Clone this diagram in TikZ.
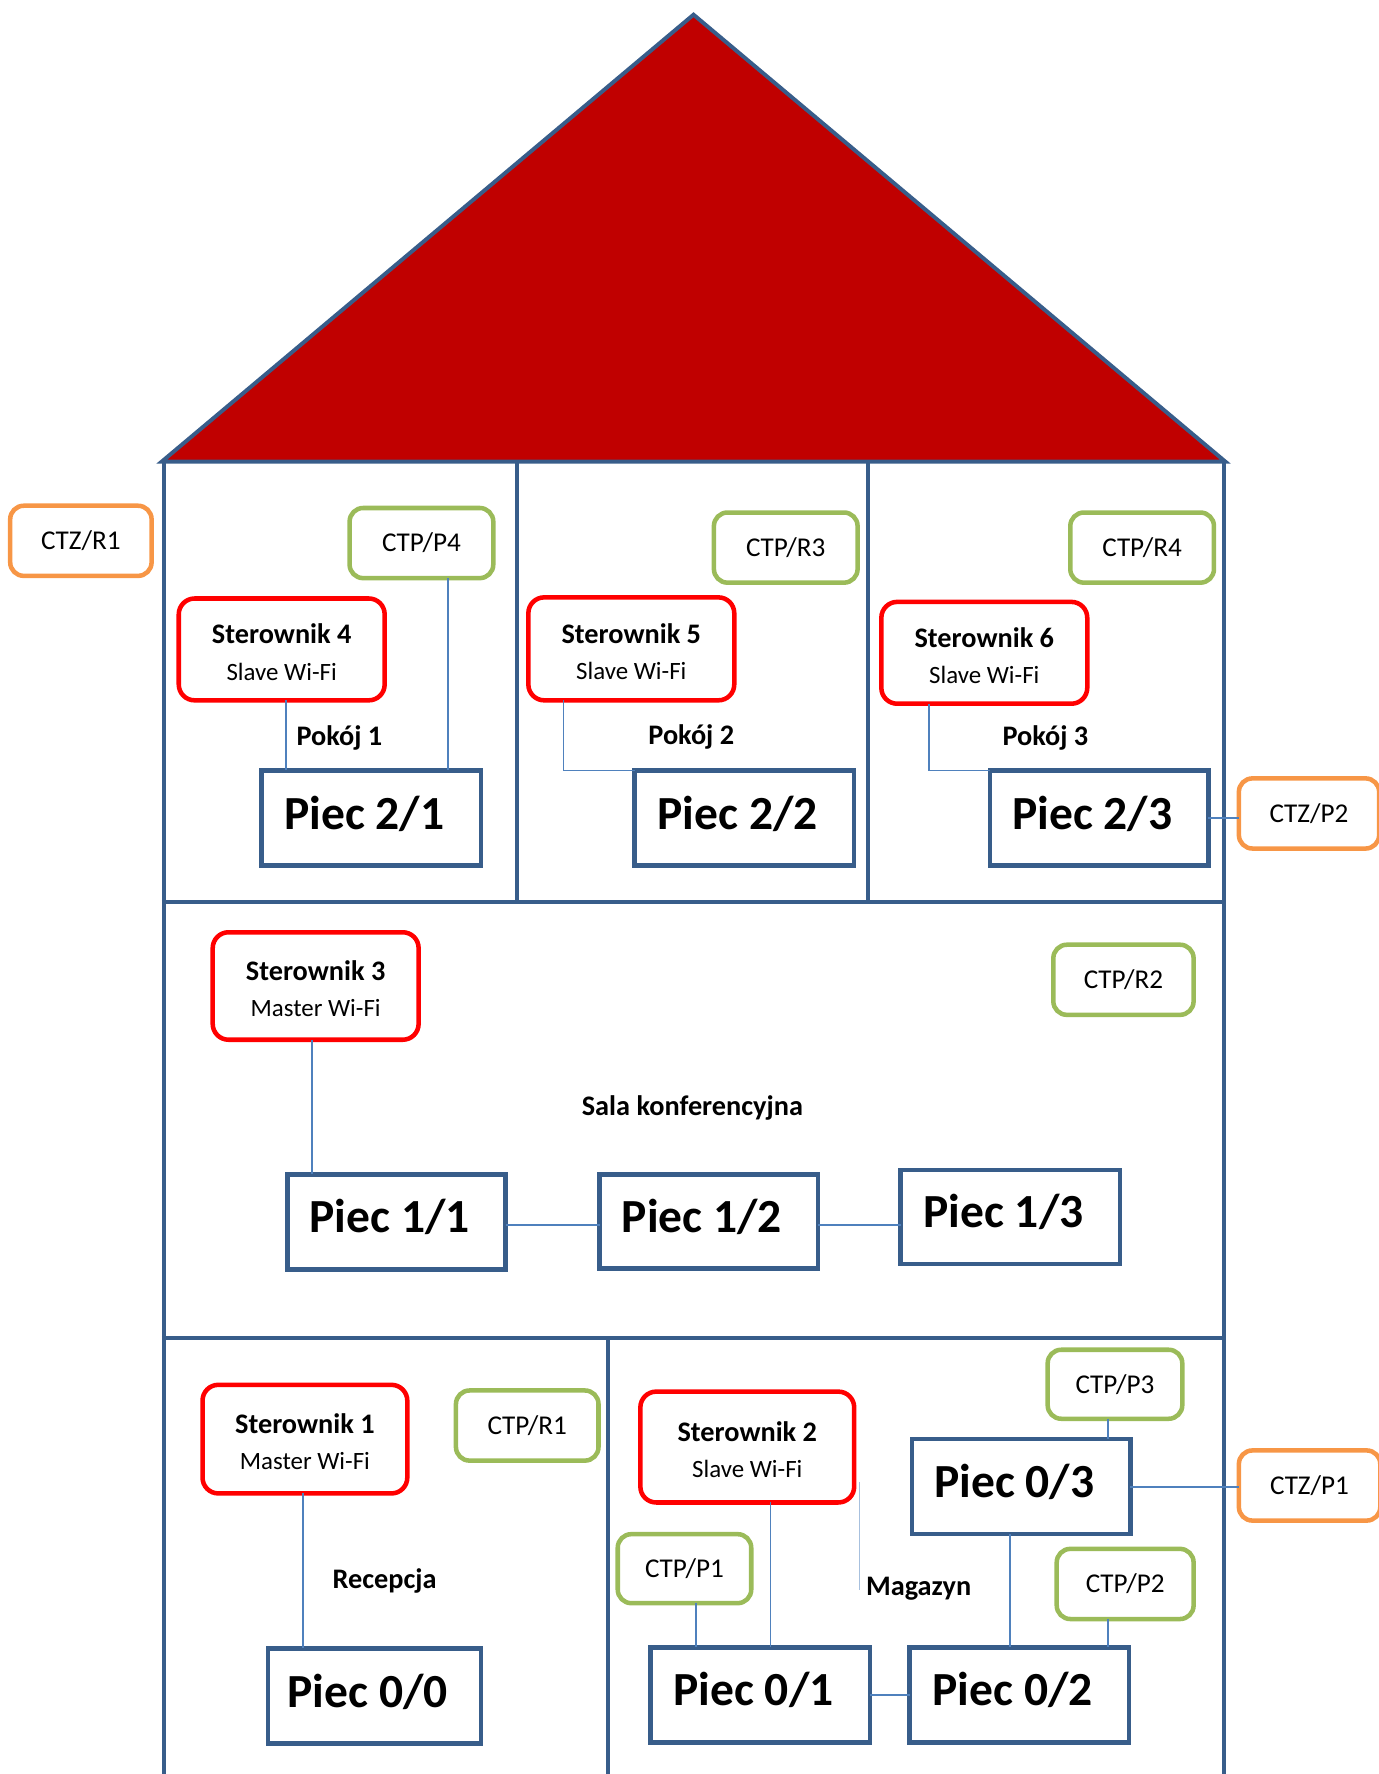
\documentclass[tikz,border=0pt]{standalone}
\usepackage{fontspec}
\setmainfont{Carlito}
\definecolor{wall}{RGB}{56,93,138}
\definecolor{roofred}{RGB}{192,0,0}
\definecolor{sterred}{RGB}{255,0,0}
\definecolor{ctpgreen}{RGB}{155,187,89}
\definecolor{ctzorange}{RGB}{247,150,70}
\definecolor{conn}{RGB}{79,129,189}
\tikzset{
  wallline/.style={draw=wall, line width=3.5pt},
  piec/.style={draw=wall, line width=4pt, inner sep=0pt, outer sep=0pt, align=center,
    font=\fontsize{42}{48}\selectfont\bfseries},
  ster/.style={draw=sterred, line width=4pt, rounded corners=14pt, inner sep=0pt, outer sep=0pt,
    align=center, font=\fontsize{22}{33}\selectfont},
  ctp/.style={draw=ctpgreen, line width=4pt, rounded corners=12pt, inner sep=0pt, outer sep=0pt,
    align=center, font=\fontsize{24}{28}\selectfont},
  ctz/.style={draw=ctzorange, line width=4pt, rounded corners=12pt, inner sep=0pt, outer sep=0pt,
    align=center, font=\fontsize{24}{28}\selectfont},
  room/.style={font=\fontsize{25}{30}\selectfont\bfseries, inner sep=0pt},
  link/.style={draw=conn, line width=1.6pt},
}
\newcommand{\stertext}[2]{\raisebox{-3pt}[\height][\depth]{\fontsize{25}{33}\selectfont\bfseries #1}\\\raisebox{-2pt}[\height][\depth]{#2}}
\newcommand{\pieclabel}[1]{\raisebox{4pt}[\height][\depth]{#1}\hspace{12pt}}
\begin{document}
\begin{tikzpicture}[x=1pt,y=-1pt]
\useasboundingbox (0,0) rectangle (1218,1568);
% roof
\filldraw[fill=roofred, draw=wall, line width=3.5pt, line join=miter] (613,13) -- (1083,408) -- (143,408) -- cycle;
% walls
\draw[wallline] (145,408) -- (145,1580);
\draw[wallline] (1082,408) -- (1082,1580);
\draw[wallline] (143,797) -- (1084,797);
\draw[wallline] (143,1183) -- (1084,1183);
\draw[wallline] (457,408) -- (457,797);
\draw[wallline] (767,408) -- (767,797);
\draw[wallline] (537,1183) -- (537,1580);

% top floor
\node[ctz, minimum width=125pt, minimum height=62pt] (ctzr1) at (71.5,478) {CTZ/R1};
\node[ctp, minimum width=127pt, minimum height=62pt] (ctpp4) at (372.5,480) {CTP/P4};
\node[ster, minimum width=182pt, minimum height=90pt] (st4) at (249,574) {\stertext{Sterownik 4}{Slave Wi-Fi}};
\node[piec, minimum width=194pt, minimum height=84pt] (p21) at (328,723) {\pieclabel{Piec 2/1}};
\node[room] (pok1) at (300,652) {Pokój 1};

\node[ctp, minimum width=127pt, minimum height=62pt] (ctpr3) at (694.5,484) {CTP/R3};
\node[ster, minimum width=182pt, minimum height=91pt] (st5) at (558,573.5) {\stertext{Sterownik 5}{Slave Wi-Fi}};
\node[piec, minimum width=194pt, minimum height=84pt] (p22) at (658,723) {\pieclabel{Piec 2/2}};
\node[room] (pok2) at (611,651) {Pokój 2};

\node[ctp, minimum width=127pt, minimum height=62pt] (ctpr4) at (1009.5,484) {CTP/R4};
\node[ster, minimum width=182pt, minimum height=90pt] (st6) at (870,577) {\stertext{Sterownik 6}{Slave Wi-Fi}};
\node[piec, minimum width=193pt, minimum height=84pt] (p23) at (971.5,723) {\pieclabel{Piec 2/3}};
\node[room] (pok3) at (924,652) {Pokój 3};
\node[ctz, minimum width=124pt, minimum height=62pt] (ctzp2) at (1157,719) {CTZ/P2};

% middle floor
\node[ster, minimum width=182pt, minimum height=95pt] (st3) at (279,871.5) {\stertext{Sterownik 3}{Master Wi-Fi}};
\node[ctp, minimum width=124pt, minimum height=62pt] (ctpr2) at (993,866) {CTP/R2};
\node[room] (sala) at (612,979) {Sala konferencyjna};
\node[piec, minimum width=193pt, minimum height=84pt] (p11) at (350.5,1080) {\pieclabel{Piec 1/1}};
\node[piec, minimum width=193pt, minimum height=83pt] (p12) at (626.5,1079.5) {\pieclabel{Piec 1/2}};
\node[piec, minimum width=194pt, minimum height=83pt] (p13) at (893,1075.5) {\pieclabel{Piec 1/3}};

% bottom floor
\node[ster, minimum width=181pt, minimum height=96pt] (st1) at (269.5,1272) {\stertext{Sterownik 1}{Master Wi-Fi}};
\node[ctp, minimum width=126pt, minimum height=62pt] (ctpr1) at (466,1260) {CTP/R1};
\node[room] (recep) at (340,1397) {Recepcja};
\node[piec, minimum width=188pt, minimum height=84pt] (p00) at (331,1499) {\pieclabel{Piec 0/0}};

\node[ster, minimum width=189pt, minimum height=98pt] (st2) at (660.5,1279) {\stertext{Sterownik 2}{Slave Wi-Fi}};
\node[ctp, minimum width=118pt, minimum height=61pt] (ctpp1) at (605,1386.5) {CTP/P1};
\node[room] (mag) at (812,1404) {Magazyn};
\node[piec, minimum width=194pt, minimum height=84pt] (p01) at (672,1498) {\pieclabel{Piec 0/1}};
\node[piec, minimum width=194pt, minimum height=84pt] (p02) at (901,1498) {\pieclabel{Piec 0/2}};
\node[piec, minimum width=193pt, minimum height=84pt] (p03) at (902.5,1314) {\pieclabel{Piec 0/3}};
\node[ctp, minimum width=119pt, minimum height=61pt] (ctpp3) at (985.5,1223.5) {CTP/P3};
\node[ctp, minimum width=121pt, minimum height=62pt] (ctpp2) at (994.5,1400) {CTP/P2};
\node[ctz, minimum width=125pt, minimum height=62pt] (ctzp1) at (1157.5,1313) {CTZ/P1};
\coordinate (fa) at (760,1310);
\coordinate (fb) at (760,1405);

% connectors
\draw[link] ([xshift=4pt]st4.south) -- ([xshift=4pt]st4.south |- p21.north);
\draw[link] ([xshift=23.5pt]ctpp4.south) -- ([xshift=23.5pt]ctpp4.south |- p21.north);
\draw[link] ([xshift=-60pt]st5.south) |- (p22.north west);
\draw[link] ([xshift=-49pt]st6.south) |- (p23.north west);
\draw[link] (p23.east) -- (p23.east -| ctzp2.west);
\draw[link] ([xshift=-3pt]st3.south) -- ([xshift=-3pt]st3.south |- p11.north);
\draw[link] ([yshift=-3pt]p11.east) -- ([yshift=-3pt]p11.east -| p12.west);
\draw[link] ([yshift=-3pt]p11.east -| p12.east) -- ([yshift=-3pt]p11.east -| p13.west);
\draw[link] ([xshift=-1.5pt]st1.south) -- ([xshift=-1.5pt]st1.south |- p00.north);
\draw[link] ([xshift=20.5pt]st2.south) -- ([xshift=20.5pt]st2.south |- p01.north);
\draw[link] ([xshift=10pt]ctpp1.south) -- ([xshift=10pt]ctpp1.south |- p01.north);
\draw[link] (p01.east) -- (p02.west);
\draw[link] ([xshift=-9.5pt]p03.south) -- ([xshift=-9.5pt]p03.south |- p02.north);
\draw[link] ([xshift=-6.5pt]ctpp3.south) -- ([xshift=-6.5pt]ctpp3.south |- p03.north);
\draw[link] ([xshift=-15.5pt]ctpp2.south) -- ([xshift=-15.5pt]ctpp2.south |- p02.north);
\draw[link] (p03.east) -- (p03.east -| ctzp1.west);
\draw[draw=conn!50, line width=1pt] (fa) -- (fb);
\end{tikzpicture}
\end{document}
